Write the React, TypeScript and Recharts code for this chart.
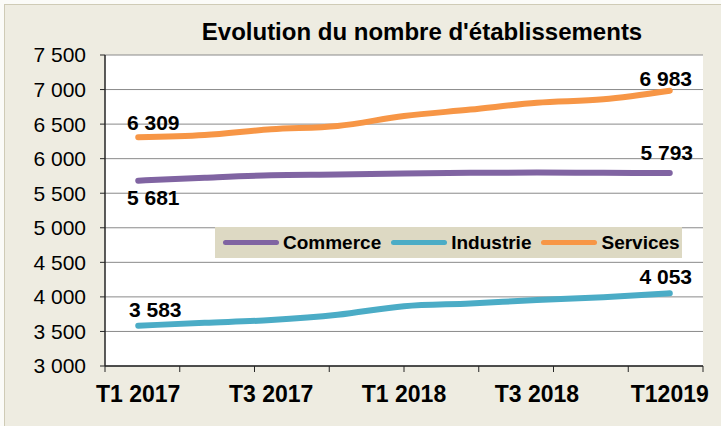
import React from 'react';
import { LineChart, Line, XAxis, YAxis, CartesianGrid, Legend, LabelList } from 'recharts';

const quarters = ['T1 2017', 'T2 2017', 'T3 2017', 'T4 2017', 'T1 2018', 'T2 2018', 'T3 2018', 'T4 2018', 'T12019'];
const commerce = [5681, 5725, 5760, 5770, 5785, 5795, 5800, 5795, 5793];
const industrie = [3583, 3625, 3665, 3740, 3865, 3905, 3955, 3995, 4053];
const services = [6309, 6342, 6425, 6473, 6617, 6710, 6810, 6859, 6983];
const yTicks = [3000, 3500, 4000, 4500, 5000, 5500, 6000, 6500, 7000, 7500];
// category boundaries, for the Excel-like tick marks between quarters
const bandEdges = [0, 1, 2, 3, 4, 5, 6, 7, 8, 9];

const data = quarters.map((q, i) => ({
  quarter: q,
  Commerce: commerce[i],
  Industrie: industrie[i],
  Services: services[i],
}));

const FONT = '"Liberation Sans", Arial, sans-serif';
const COLORS = { Commerce: '#8064a2', Industrie: '#4bacc6', Services: '#f79646' };

const fmt = (v: number) => String(v).replace(/\B(?=(\d{3})+(?!\d))/g, ' ');

// where the first / last value labels sit relative to their point
const labelPos: Record<string, { first: [number, number]; last: [number, number] }> = {
  Commerce: { first: [15, 24], last: [-3, -13] },
  Industrie: { first: [17, -9], last: [-4, -9] },
  Services: { first: [15, -7], last: [-4, -5] },
};

const endLabel = (series: string) => (props: any) => {
  const { x, y, value, index } = props;
  if (index !== 0 && index !== quarters.length - 1) return null;
  const [dx, dy] = index === 0 ? labelPos[series].first : labelPos[series].last;
  return (
    <text x={x + dx} y={y + dy} textAnchor="middle" fontFamily={FONT} fontSize={21} fontWeight="bold" fill="#000">
      {fmt(value)}
    </text>
  );
};

const LegendBox = (props: any) => {
  const { payload = [] } = props;
  return (
    <div
      style={{
        display: 'flex',
        alignItems: 'center',
        height: 31,
        background: '#ddd9c3',
        paddingLeft: 8,
        paddingRight: 5,
        fontFamily: FONT,
        fontWeight: 'bold',
        fontSize: 19,
        color: '#000',
      }}
    >
      {payload.map((p: any, i: number) => (
        <div key={p.value} style={{ display: 'flex', alignItems: 'center', marginLeft: i === 0 ? 0 : 10 }}>
          <span style={{ display: 'inline-block', width: 56, height: 5, borderRadius: 3, background: p.color, marginRight: 4 }} />
          <span>{p.value}</span>
        </div>
      ))}
    </div>
  );
};

export default function App() {
  return (
    <div style={{ position: 'absolute', left: 0, top: 0, width: 721, height: 426, overflow: 'hidden', background: '#fbfbf8' }}>
      <div style={{ position: 'absolute', left: 4, top: 4, width: 760, height: 460, background: '#eeece1', border: '1px solid #cfcbb6' }} />
      <div
        style={{
          position: 'absolute',
          left: 0,
          top: 20,
          width: 844,
          textAlign: 'center',
          fontFamily: FONT,
          fontWeight: 'bold',
          fontSize: 24,
          lineHeight: '24px',
          color: '#000',
        }}
      >
        Evolution du nombre d'établissements
      </div>
      <div style={{ position: 'absolute', left: 0, top: 0 }}>
        <LineChart width={721} height={426} data={data} margin={{ top: 55, right: 18, left: 0, bottom: 0 }}>
          <CartesianGrid vertical={false} stroke="#8a8a8a" fill="#ffffff" />
          <XAxis
            xAxisId="b"
            dataKey="quarter"
            scale="band"
            interval={1}
            axisLine={false}
            tickLine={false}
            tickSize={0}
            tickMargin={14}
            height={54}
            tick={{ fontFamily: FONT, fontSize: 23, fontWeight: 'bold', fill: '#000' }}
          />
          <XAxis
            xAxisId="a"
            type="number"
            domain={[0, 9]}
            allowDataOverflow
            ticks={bandEdges}
            interval={0}
            tickFormatter={() => ''}
            tickSize={6}
            height={6}
            axisLine={{ stroke: '#262626', strokeWidth: 1.5 }}
            tickLine={{ stroke: '#262626' }}
          />
          <YAxis
            domain={[3000, 7500]}
            ticks={yTicks}
            interval={0}
            width={105}
            tickSize={5}
            tickMargin={14}
            tickFormatter={fmt}
            axisLine={{ stroke: '#262626', strokeWidth: 1.5 }}
            tickLine={{ stroke: '#262626' }}
            tick={{ fontFamily: FONT, fontSize: 21, fill: '#000' }}
          />
          <YAxis
            yAxisId="frame"
            orientation="right"
            width={0}
            domain={[0, 1]}
            tick={false}
            tickLine={false}
            axisLine={{ stroke: '#8a8a8a', strokeWidth: 2 }}
          />
          <Legend
            layout="vertical"
            align="center"
            verticalAlign="middle"
            content={<LegendBox />}
            wrapperStyle={{ left: 215, top: 227, width: 467 }}
          />
          {(['Commerce', 'Industrie', 'Services'] as const).map((s) => (
            <Line
              key={s}
              xAxisId="b"
              type="monotone"
              dataKey={s}
              name={s}
              stroke={COLORS[s]}
              strokeWidth={6}
              strokeLinecap="round"
              dot={false}
              activeDot={false}
              isAnimationActive={false}
            >
              <LabelList dataKey={s} content={endLabel(s)} />
            </Line>
          ))}
        </LineChart>
      </div>
    </div>
  );
}
